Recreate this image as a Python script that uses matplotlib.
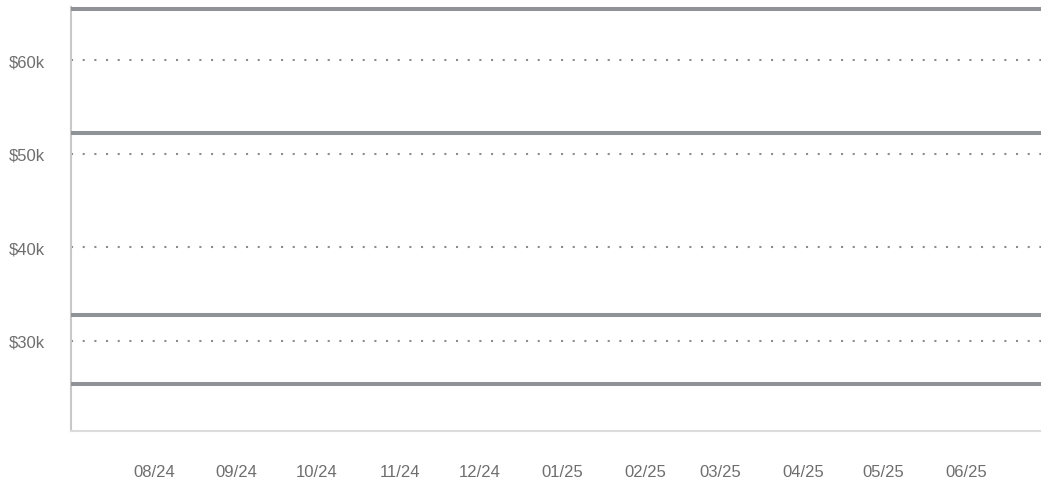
import matplotlib
matplotlib.use('Agg')
import pandas as pd
from matplotlib import pyplot as plt
import matplotlib.dates as mdates
from matplotlib.ticker import FuncFormatter

plt.rcParams['font.family'] = ['Liberation Sans', 'DejaVu Sans']

# monthly snapshot dates and the four (flat) series, in $k
dates = pd.to_datetime(['2024-07-01', '2024-08-01', '2024-09-01', '2024-10-01',
                        '2024-11-01', '2024-12-01', '2025-01-01', '2025-02-01',
                        '2025-03-01', '2025-04-01', '2025-05-01', '2025-06-01',
                        '2025-06-29'])
series_a = [65.45] * 13
series_b = [52.27] * 13
series_c = [32.81] * 13
series_d = [25.37] * 13
yticks = [30, 40, 50, 60]

fig = plt.figure(figsize=(10.41, 4.81), dpi=100)
ax = fig.add_axes([71 / 1041, 49 / 481, 970 / 1041, 424 / 481])

for s in [series_a, series_b, series_c, series_d]:
    ax.plot(dates, s, color='#8f9297', linewidth=2.9, solid_capstyle='butt',
            clip_on=False, zorder=3)

ax.set_xlim(dates[0], dates[-1])
ax.set_ylim(20.35, 65.7)
ax.set_yticks(yticks)
ax.yaxis.set_major_formatter(FuncFormatter(lambda v, p: f'${v:.0f}k'))
ax.set_xticks(dates[1:12])
ax.xaxis.set_major_formatter(mdates.DateFormatter('%m/%y'))

ax.grid(axis='y', color='#8c8c8c', linewidth=1.5, linestyle=(0, (1, 4.6)))
ax.tick_params(axis='both', length=0, labelsize=12, labelcolor='#6e6e6e')
ax.tick_params(axis='y', pad=19)
ax.tick_params(axis='x', pad=24)

for k in ['top', 'right']:
    ax.spines[k].set_visible(False)
ax.spines['left'].set_color('#c8c8c8')
ax.spines['left'].set_linewidth(1.5)
ax.spines['bottom'].set_color('#dcdcdc')
ax.spines['bottom'].set_linewidth(1.5)

plt.savefig('out.png', dpi=100)
plt.close()
